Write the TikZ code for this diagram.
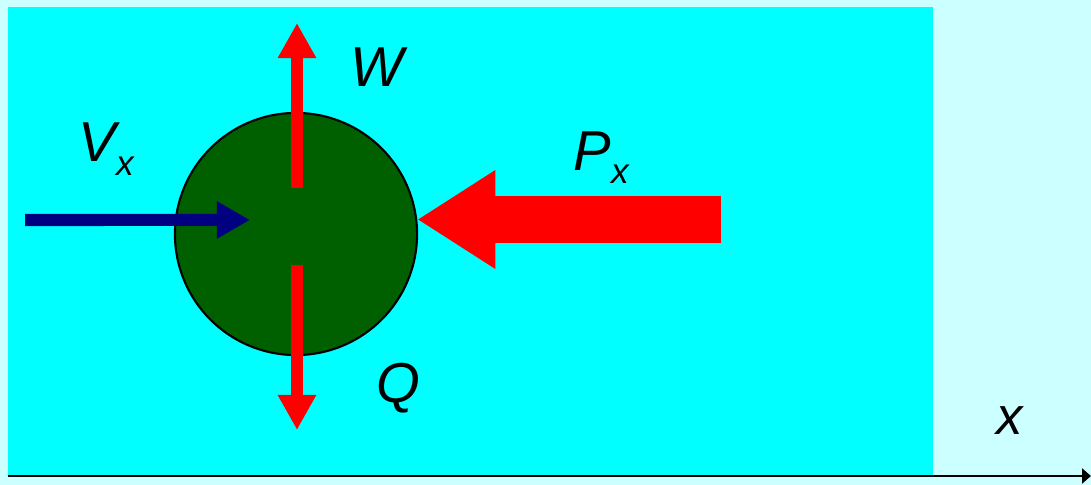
\documentclass[tikz,border=0pt]{standalone}
\usepackage{fontspec}
\setmainfont{Liberation Sans}
\usetikzlibrary{arrows.meta,positioning,calc}
\definecolor{paleaqua}{RGB}{204,255,255}
\definecolor{fluidcyan}{RGB}{0,255,255}
\definecolor{ballgreen}{RGB}{0,96,0}
\definecolor{forcered}{RGB}{255,0,0}
\definecolor{flownavy}{RGB}{0,0,128}

\begin{document}
\begin{tikzpicture}[x=0.01cm,y=-0.01cm,
  lbl/.style={inner sep=0pt,font=\fontsize{16}{19}\selectfont\itshape},
  vforce/.style={forcered,line width=0.12cm,-{Triangle[length=0.35cm,width=0.36cm]}}]
\useasboundingbox (0,0) rectangle (1091,485);
\fill[paleaqua] (0,0) rectangle (1091,485);
\fill[fluidcyan] (8,7) rectangle (933,475);
\node[circle,draw,line width=0.6pt,fill=ballgreen,minimum size=2.42cm,inner sep=0pt] (ball) at (296,234) {};
\coordinate (wtip) at (297,23);
\coordinate (qtip) at (297,430);
\coordinate (vtail) at (25,220);
\coordinate (ptail) at (721,219.5);
\coordinate (axstart) at (8,476);
\coordinate (axend) at (1091,476);
\draw[vforce] ([xshift=0.01cm,yshift=0.46cm]ball.center) -- (wtip);
\draw[vforce] ([xshift=0.01cm,yshift=-0.31cm]ball.center) -- (qtip);
\draw[flownavy,line width=0.12cm,-{Triangle[length=0.33cm,width=0.35cm]}] (vtail) -- ([xshift=-0.46cm,yshift=0.14cm]ball.center);
\draw[forcered,line width=0.47cm,-{Triangle[length=0.78cm,width=0.93cm]}] (ptail) -- (ptail -| ball.7);
\draw[line width=0.025cm,-{Triangle[length=0.09cm,width=0.15cm]}] (axstart) -- (axend);
\node[lbl,anchor=base] (wlbl) at (377,87) {W};
\node[lbl,anchor=base] (qlbl) at (398,402) {Q};
\node[lbl,anchor=base west] (vlbl) at (78,162) {V\raisebox{-0.13cm}{\fontsize{10}{12}\selectfont x}};
\node[lbl,anchor=base west] (plbl) at (573,170) {P\raisebox{-0.13cm}{\fontsize{10}{12}\selectfont x}};
\node[lbl,anchor=base,font=\fontsize{15}{18}\selectfont\itshape] (xlbl) at (1010,434) {x};
\end{tikzpicture}
\end{document}
